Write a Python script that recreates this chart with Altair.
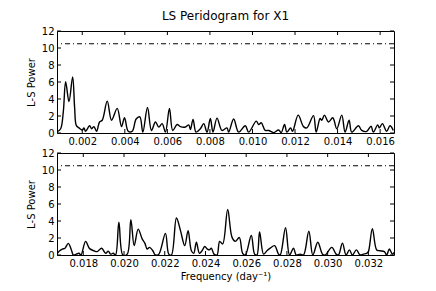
import altair as alt
import pandas as pd

# ---- data ----
top_freq = [0.000827, 0.000984, 0.001109, 0.001218, 0.001375, 0.001547, 0.001640, 0.001719,
            0.001844, 0.002000, 0.002078, 0.002156, 0.002344, 0.002438, 0.002547, 0.002672,
            0.002813, 0.002938, 0.003173, 0.003376, 0.003642, 0.003845, 0.003986, 0.004158,
            0.004346, 0.004533, 0.004705, 0.004846, 0.005065, 0.005252, 0.005440, 0.005597,
            0.005753, 0.005909, 0.006097, 0.006253, 0.006457, 0.006613, 0.006847, 0.007004,
            0.007082, 0.007207, 0.007348, 0.007551, 0.007708, 0.007864, 0.008020, 0.008145,
            0.008333, 0.008568, 0.008802, 0.008880, 0.009115, 0.009349, 0.009662, 0.009819,
            0.010178, 0.010288, 0.010413, 0.010600, 0.010757, 0.010991, 0.011226, 0.011351,
            0.011507, 0.011617, 0.011789, 0.011883, 0.012148, 0.012399, 0.012555, 0.012868,
            0.012993, 0.013180, 0.013259, 0.013384, 0.013571, 0.013775, 0.013962, 0.014197,
            0.014353, 0.014541, 0.014666, 0.014979, 0.015135, 0.015370, 0.015573, 0.015682,
            0.015886, 0.015964, 0.016105, 0.016308, 0.016464, 0.016620]
top_power = [0.15, 0.5, 2.5, 6.04, 3.7, 6.6, 3.0, 0.9,
             0.6, 0.35, 0.6, 0.2, 0.85, 0.5, 0.75, 0.2,
             1.3, 1.5, 3.75, 1.5, 2.9, 0.75, 1.8, 0.2,
             0.2, 1.65, 1.9, 0.1, 3.0, 0.3, 1.3, 0.7,
             1.1, 0.1, 2.9, 0.3, 1.0, 0.75, 0.7, 0.95,
             0.4, 1.6, 0.1, 0.5, 1.1, 0.1, 1.7, 0.1,
             1.75, 0.3, 0.6, 0.1, 1.65, 0.1, 0.85, 0.1,
             1.4, 1.0, 1.2, 0.3, 0.3, 0.05, 0.35, 0.05,
             1.0, 0.1, 0.6, 0.2, 2.1, 0.75, 0.6, 2.05,
             0.1, 1.7, 1.5, 2.1, 1.3, 1.8, 0.5, 2.1,
             0.1, 1.5, 0.1, 0.85, 0.3, 0.2, 0.8, 0.1,
             0.95, 0.6, 1.1, 0.2, 0.85, 0.3]

bot_freq = [0.016726, 0.016840, 0.016971, 0.017102, 0.017265, 0.017428, 0.017510, 0.017657,
            0.017788, 0.017886, 0.018114, 0.018310, 0.018523, 0.018686, 0.018898, 0.019095,
            0.019225, 0.019340, 0.019470, 0.019585, 0.019748, 0.019944, 0.020156, 0.020336,
            0.020499, 0.020695, 0.020891, 0.021022, 0.021137, 0.021251, 0.021414, 0.021545,
            0.021708, 0.022035, 0.022198, 0.022329, 0.022574, 0.022770, 0.022982, 0.023146,
            0.023309, 0.023424, 0.023554, 0.023701, 0.023832, 0.023963, 0.024093, 0.024191,
            0.024289, 0.024420, 0.024567, 0.024698, 0.024845, 0.025090, 0.025302, 0.025466,
            0.025662, 0.025825, 0.025956, 0.026250, 0.026413, 0.026528, 0.026658, 0.026854,
            0.027018, 0.027181, 0.027393, 0.027589, 0.027671, 0.027932, 0.028128, 0.028324,
            0.028455, 0.028651, 0.028814, 0.029076, 0.029272, 0.029517, 0.029746, 0.029876,
            0.030203, 0.030415, 0.030530, 0.030726, 0.030905, 0.031069, 0.031216, 0.031412,
            0.031592, 0.031755, 0.031918, 0.032000, 0.032196, 0.032408, 0.032572, 0.032784,
            0.032898, 0.033029, 0.033176, 0.033258]
bot_power = [0.2, 0.5, 0.7, 0.8, 1.37, 0.5, 0.0, 0.1,
             0.2, 0.0, 1.6, 0.75, 0.5, 0.4, 0.8, 0.2,
             0.45, 0.1, 0.2, 0.0, 3.85, 0.0, 0.1, 4.15,
             1.1, 3.05, 1.9, 1.4, 0.7, 0.9, 0.5, 0.0,
             0.1, 2.55, 0.1, 0.0, 4.35, 2.9, 1.1, 2.85,
             0.5, 0.2, 1.5, 0.2, 0.5, 1.0, 0.7, 0.6,
             0.8, 0.1, 0.0, 1.6, 1.3, 5.35, 2.1, 1.6,
             2.05, 0.2, 0.0, 2.3, 0.1, 0.0, 2.7, 0.1,
             0.5, 0.8, 1.1, 0.1, 0.0, 3.2, 0.0, 0.8,
             0.0, 0.1, 0.0, 2.8, 0.0, 1.5, 0.1, 0.0,
             0.9, 0.1, 0.0, 1.4, 0.0, 0.6, 0.0, 0.6,
             0.0, 0.1, 0.2, 0.4, 3.1, 0.6, 0.5, 0.4,
             0.0, 0.7, 0.1, 0.3]

top_ticks = [0.002, 0.004, 0.006, 0.008, 0.010, 0.012, 0.014, 0.016]
bot_ticks = [0.018, 0.020, 0.022, 0.024, 0.026, 0.028, 0.030, 0.032]
y_ticks = [0, 2, 4, 6, 8, 10, 12]
threshold = [10.5]
top_domain = [0.000812, 0.016652]
bot_domain = [0.016709, 0.033258]

W, H = 337, 102
TL = 4
FONT = "DejaVu Sans"


def panel(freq, power, ticks, domain, xtitle, title=None):
    xs = alt.Scale(domain=domain, nice=False, zero=False)
    ys = alt.Scale(domain=[0, 12], nice=False)
    xaxis = alt.Axis(values=ticks, format=".3f", labelFlush=False, title=xtitle,
                     titlePadding=3)
    yaxis = alt.Axis(values=y_ticks, title="L-S Power")

    df = pd.DataFrame({"f": freq, "p": power})
    line = alt.Chart(df).mark_line(
        color="black", strokeWidth=1.4, interpolate="catmull-rom", clip=True
    ).encode(
        x=alt.X("f:Q", scale=xs, axis=xaxis),
        y=alt.Y("p:Q", scale=ys, axis=yaxis),
    )
    thr = alt.Chart(pd.DataFrame({"p": threshold})).mark_rule(
        color="black", strokeWidth=1, strokeDash=[5, 3, 1, 3]
    ).encode(y=alt.Y("p:Q", scale=ys, axis=yaxis))

    xt = pd.DataFrame({"f": ticks})
    yt = pd.DataFrame({"p": y_ticks})
    tick_style = dict(color="black", strokeWidth=1)
    xb = alt.Chart(xt).mark_rule(**tick_style).encode(
        x=alt.X("f:Q", scale=xs, axis=xaxis), y=alt.value(H), y2=alt.value(H - TL))
    xtop = alt.Chart(xt).mark_rule(**tick_style).encode(
        x=alt.X("f:Q", scale=xs, axis=xaxis), y=alt.value(0), y2=alt.value(TL))
    yl = alt.Chart(yt).mark_rule(**tick_style).encode(
        y=alt.Y("p:Q", scale=ys, axis=yaxis), x=alt.value(0), x2=alt.value(TL))
    yr = alt.Chart(yt).mark_rule(**tick_style).encode(
        y=alt.Y("p:Q", scale=ys, axis=yaxis), x=alt.value(W - TL), x2=alt.value(W))

    props = dict(width=W, height=H)
    if title is not None:
        props["title"] = alt.TitleParams(
            title, fontSize=12, font=FONT, fontWeight="normal", offset=3,
            anchor="middle", frame="group", color="black")
    return alt.layer(line, thr, xb, xtop, yl, yr).properties(**props)


top = panel(top_freq, top_power, top_ticks, top_domain, None, "LS Peridogram for X1")
bot = panel(bot_freq, bot_power, bot_ticks, bot_domain, "Frequency (day\u207b\u00b9)")

chart = alt.vconcat(top, bot, spacing=0).properties(
    padding={"left": 17, "top": 1, "right": 5, "bottom": 2},
    background="white",
).configure_view(
    stroke="black", strokeWidth=1
).configure_axis(
    grid=False, ticks=False, domain=False,
    labelFont=FONT, labelFontSize=10, labelColor="black", labelPadding=3,
    titleFont=FONT, titleFontSize=10, titleFontWeight="normal", titleColor="black",
    titlePadding=5,
)

chart.save("out.html", embed_options={"renderer": "svg", "actions": False})
